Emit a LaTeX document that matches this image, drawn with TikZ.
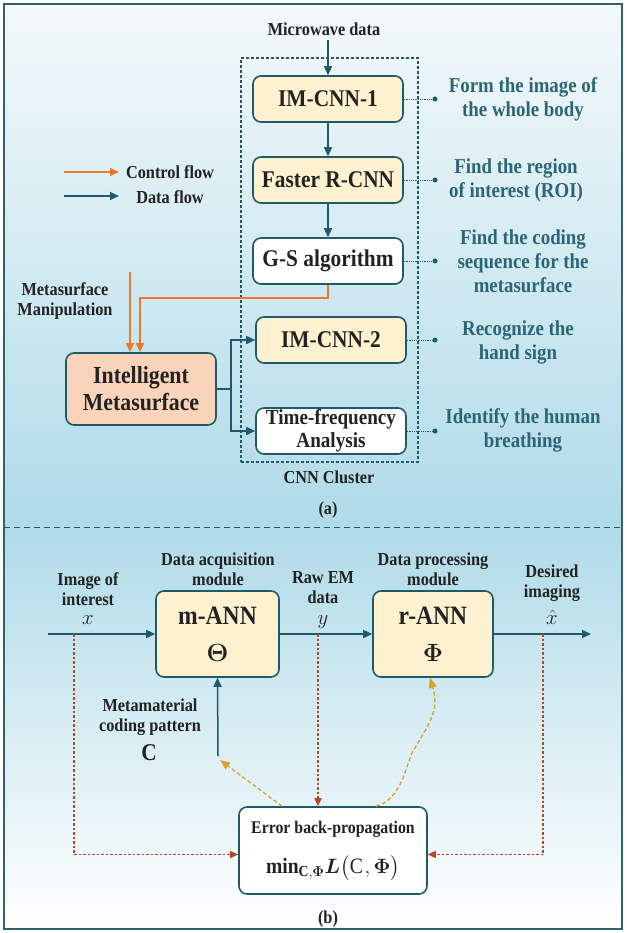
\documentclass[tikz,border=0pt]{standalone}
\usepackage{fontspec}
\usepackage{amsmath,bm}
\setmainfont[FakeStretch=0.89]{Liberation Serif}
\usetikzlibrary{arrows.meta}

\definecolor{tealdark}{HTML}{1F5A6A}
\definecolor{tealtext}{HTML}{2C6676}
\definecolor{txtdark}{HTML}{222222}
\definecolor{creamfill}{HTML}{FDF1CF}
\definecolor{peachfill}{HTML}{FAD4BA}
\definecolor{orangec}{HTML}{EC7A2C}
\definecolor{brownc}{HTML}{B04A22}
\definecolor{goldc}{HTML}{D6A22E}
\definecolor{bgtop}{HTML}{F4F9FB}
\definecolor{bgmid}{HTML}{B0DBE8}

\begin{document}
\begin{tikzpicture}[x=1pt, y=-1pt,
    box/.style={draw=tealdark, line width=1.6pt, rounded corners=8pt, align=center,
        text=txtdark, inner sep=0pt, font=\bfseries\fontsize{24}{26}\selectfont},
    cnnbox/.style={box, minimum width=150pt, minimum height=46pt},
    lbl/.style={text=txtdark, align=center, font=\bfseries\fontsize{18.3}{20}\selectfont},
    desc/.style={text=tealtext, align=center, font=\bfseries\fontsize{21.2}{24}\selectfont},
    var/.style={text=txtdark, font=\fontsize{20}{24}\selectfont},
    data/.style={draw=tealdark, line width=1.5pt, -{Triangle[length=9pt, width=8pt]}},
    ctrl/.style={draw=orangec, line width=1.5pt, -{Triangle[length=9pt, width=8pt]}},
    err/.style={draw=brownc, line width=1.5pt, dash pattern=on 2.5pt off 2pt, -{Triangle[length=8pt, width=7pt]}},
    grad/.style={draw=goldc, line width=1.3pt, dash pattern=on 4pt off 2.5pt, -{Triangle[length=10pt, width=8pt]}},
    dot/.style={circle, fill=tealdark, inner sep=0pt, minimum size=5pt},
    link/.style={draw=tealdark, line width=0.8pt, densely dotted}
]
    \useasboundingbox (0,0) rectangle (626,933);

    % Background and frame
    \fill[top color=bgtop, bottom color=bgmid] (4,4) rectangle (622,527);
    \fill[top color=bgmid, bottom color=white] (4,527) rectangle (622,929);
    \draw[tealdark, line width=0.9pt, dash pattern=on 6pt off 4pt] (4,527) -- (622,527);
    \draw[tealdark!80!gray, line width=2pt] (4,4) rectangle (622,929);

    % (a) Nodes
    \node[lbl] (mw) at (324,29) {Microwave data};
    \node[draw=tealdark, line width=1.3pt, dash pattern=on 3pt off 2pt,
          minimum width=177pt, minimum height=404pt] (cluster) at (329.5,260) {};
    \node[cnnbox, fill=creamfill] (cnn1) at (328,99) {IM-CNN-1};
    \node[cnnbox, fill=creamfill] (frcnn) at (328,180) {Faster R-CNN};
    \node[cnnbox, fill=white] (gs) at (328,261) {G-S algorithm};
    \node[cnnbox, fill=creamfill] (cnn2) at (331,340) {IM-CNN-2};
    \node[cnnbox, fill=white, font=\bfseries\fontsize{21.5}{23}\selectfont] (tfa) at (331,431) {Time-frequency\\Analysis};
    \node[box, fill=peachfill, minimum width=150pt, minimum height=72pt,
          font=\bfseries\fontsize{24.5}{27}\selectfont] (ims) at (141,389) {Intelligent\\Metasurface};
    \node[lbl] (clab) at (329,477) {CNN Cluster};
    \node[lbl] (capa) at (328,510) {(a)};
    \node[lbl] (manip) at (65,301) {Metasurface\\Manipulation};

    % legend
    \coordinate (lc1) at (64,172);
    \coordinate (lc2) at (119,172);
    \coordinate (ld1) at (64,196);
    \coordinate (ld2) at (119,196);
    \draw[ctrl] (lc1) -- (lc2);
    \draw[data] (ld1) -- (ld2);
    \node[lbl] (lctrl) at (170,172) {Control flow};
    \node[lbl] (ldata) at (170,197) {Data flow};

    % descriptions
    \node[dot] (d1) at (435,99) {};
    \node[dot] (d2) at (435,180) {};
    \node[dot] (d3) at (435,261) {};
    \node[dot] (d4) at (435,340) {};
    \node[dot] (d5) at (435,431) {};
    \node[desc] (t1) at (523,99) {Form the image of\\the whole body};
    \node[desc] (t2) at (516,180) {Find the region\\of interest (ROI)};
    \node[desc] (t3) at (523,261) {Find the coding\\sequence for the\\metasurface};
    \node[desc] (t4) at (518,342) {Recognize the\\hand sign};
    \node[desc] (t5) at (523,430) {Identify the human\\breathing};
    \draw[link] (cnn1.east) -- (d1);
    \draw[link] (frcnn.east) -- (d2);
    \draw[link] (gs.east) -- (d3);
    \draw[link] (cnn2.east) -- (d4);
    \draw[link] (tfa.east) -- (d5);

    % (a) Connectors
    \coordinate (mwin) at (328,40);
    \draw[data] (mwin) -- (cnn1.north);
    \draw[data] (cnn1) -- (frcnn);
    \draw[data] (frcnn) -- (gs);
    \coordinate (turn) at (140,298);
    \draw[ctrl] (gs.south) |- (turn) -- (turn |- ims.north);
    \coordinate (mtop) at (130,272);
    \draw[ctrl] (mtop) -- (mtop |- ims.north);
    \coordinate (br) at (231,389);
    \draw[data] (ims.east) -- (br) |- (cnn2.west);
    \draw[data] (br) |- (tfa.west);

    % (b) Nodes
    \node[box, fill=creamfill, minimum width=123pt, minimum height=86pt,
          font=\bfseries\fontsize{26.5}{37}\selectfont] (mann) at (217.5,634) {m-ANN\\$\bm{\Theta}$};
    \node[box, fill=creamfill, minimum width=120pt, minimum height=86pt,
          font=\bfseries\fontsize{26.5}{37}\selectfont] (rann) at (433,634) {r-ANN\\$\bm{\Phi}$};
    \node[box, fill=white, minimum width=188pt, minimum height=87pt,
          font=\bfseries\fontsize{17.8}{36}\selectfont] (errbox) at (333,850.5)
          {Error back-propagation\\[4pt]{\fontsize{22}{26}\selectfont$\text{\bfseries min}_{\text{\bfseries C},\bm{\Phi}}\bm{L}\bigl(\mathrm{C},\bm{\Phi}\bigr)$}};
    \node[lbl] (imgl) at (88,589) {Image of\\interest};
    \node[var] (xv) at (88,620) {$x$};
    \node[lbl] (daq) at (218,569.5) {Data acquisition\\module};
    \node[lbl] (raw) at (323,588) {Raw EM\\data};
    \node[var] (yv) at (323,622) {$y$};
    \node[lbl] (dpr) at (433,569.5) {Data processing\\module};
    \node[lbl] (des) at (552,583) {Desired\\imaging};
    \node[var] (xh) at (552,617) {$\hat{x}$};
    \node[lbl] (cpl) at (150,717) {Metamaterial\\coding pattern};
    \node[text=txtdark, font=\fontsize{24}{28}\selectfont] (cv) at (150,753) {$\mathbf{C}$};
    \node[lbl] (capb) at (328,919) {(b)};

    % (b) Connectors
    \coordinate (in) at (48,634);
    \coordinate (out) at (591,634);
    \draw[data] (in) -- (mann.west);
    \draw[data] (mann.east) -- (rann.west);
    \draw[data] (rann.east) -- (out);
    \coordinate (cp) at (218,756);
    \draw[data] (cp) -- (mann.south);

    \coordinate (tx) at (74,634);
    \coordinate (ty) at (318,634);
    \coordinate (txh) at (543,634);
    \draw[err] (tx) |- ([yshift=-4pt]errbox.west);
    \draw[err] (ty) -- (ty |- errbox.north);
    \draw[err] (txh) |- ([yshift=-4pt]errbox.east);

    \coordinate (g1) at (220,760);
    \draw[grad] ([xshift=-51pt]errbox.north) -- (g1);
    \draw[grad] ([xshift=43pt]errbox.north) .. controls (400,800) and (405,770) .. (412,753)
        .. controls (428,725) and (440,712) .. ([xshift=-3pt]rann.south);
\end{tikzpicture}
\end{document}
